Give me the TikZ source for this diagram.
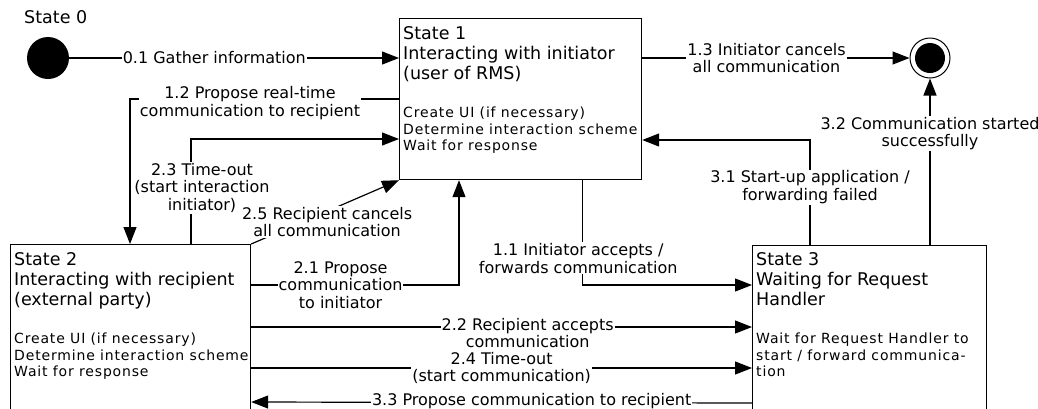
\documentclass[tikz,border=0pt]{standalone}
\usepackage{fontspec}
\setmainfont{DejaVu Sans}
\newfontfamily\spacedfont[LetterSpace=6]{DejaVu Sans}
\usetikzlibrary{arrows.meta}
\usetikzlibrary{positioning}

\begin{document}
\begin{tikzpicture}[x=1pt, y=-1pt,
    flow/.style={draw, line width=1.2pt, -{Triangle[length=17pt, width=13pt]}},
    statebox/.style={draw, line width=1.2pt, rectangle, anchor=north west, inner sep=0pt, minimum height=175pt},
    titletext/.style={inner sep=0pt, align=left, font=\fontsize{17.5}{20}\selectfont},
    bodytext/.style={inner sep=0pt, align=left, font=\spacedfont\fontsize{14}{16.5}\selectfont},
    lbl/.style={fill=white, inner sep=1pt, align=center, font=\fontsize{16}{17.5}\selectfont},
    startdot/.style={circle, fill=black, minimum size=42pt, inner sep=0pt},
    endring/.style={circle, draw, line width=1pt, minimum size=40pt, inner sep=0pt},
    enddot/.style={circle, fill=black, minimum size=30pt, inner sep=0pt}]
    \useasboundingbox (0,0) rectangle (1038,408);

    \node[startdot] (start) at (48,58) {};
    \node[titletext, anchor=base west] (s0) at (24,23) {State 0};

    \node[statebox, minimum width=242pt, minimum height=161pt] (s1) at (399,18) {};
    \node[titletext, below right=8pt and 4pt of s1.north west] (s1title) {State 1\\Interacting with initiator\\(user of RMS)};
    \node[bodytext, below right=89pt and 4pt of s1.north west] (s1body) {Create UI (if necessary)\\Determine interaction scheme\\Wait for response};

    \node[statebox, minimum width=240pt] (s2) at (10,244) {};
    \node[titletext, below right=8pt and 4pt of s2.north west] (s2title) {State 2\\Interacting with recipient\\(external party)};
    \node[bodytext, below right=89pt and 4pt of s2.north west] (s2body) {Create UI (if necessary)\\Determine interaction scheme\\Wait for response};

    \node[statebox, minimum width=234pt] (s3) at (752,245) {};
    \node[titletext, below right=7pt and 4pt of s3.north west] (s3title) {State 3\\Waiting for Request\\Handler};
    \node[bodytext, below right=88pt and 4pt of s3.north west] (s3body) {Wait for Request Handler to\\start / forward communica-\\tion};

    \node[endring] (stop) at (930,58) {};
    \node[enddot] (stopdot) at (stop) {};

    \draw[flow] (start) -- (s1.west |- start) node[lbl, pos=0.44] {0.1 Gather information};
    \draw[flow] (s1.east |- stop) -- (stop) node[lbl, pos=0.465] {1.3 Initiator cancels\\all communication};
    \draw[flow] ([shift={(0,81)}]s1.north west) -| ([shift={(120,0)}]s2.north west)
        node[lbl, pos=0.277, yshift=-4pt] {1.2 Propose real-time\\communication to recipient};
    \draw[flow] ([shift={(181,0)}]s2.north west) |- ([shift={(0,121)}]s1.north west)
        node[lbl, pos=0.267, xshift=11pt] {2.3 Time-out\\(start interaction\\initiator)};
    \draw[flow] (s2.north east) -- (s1.south west) node[lbl, midway, xshift=2pt, yshift=-10pt] {2.5 Recipient cancels\\all communication};
    \draw[flow] ([shift={(0,41)}]s2.north east) -| ([shift={(60,0)}]s1.south west)
        node[lbl, pos=0.215] {2.1 Propose\\communication\\to initiator};
    \draw[flow] ([shift={(-60,0)}]s1.south east) |- ([shift={(0,40)}]s3.north west)
        node[lbl, pos=0.373, xshift=-4pt] {1.1 Initiator accepts /\\forwards communication};
    \draw[flow] ([shift={(0,83)}]s2.north east) -- ([shift={(0,82)}]s3.north west)
        node[lbl, pos=0.552, yshift=-6pt] {2.2 Recipient accepts\\communication};
    \draw[flow] ([shift={(0,124)}]s2.north east) -- ([shift={(0,123)}]s3.north west)
        node[lbl, pos=0.5] {2.4 Time-out\\(start communication)};
    \draw[flow] ([shift={(0,158)}]s3.north west) -- ([shift={(0,158)}]s2.north east)
        node[lbl, pos=0.44, yshift=1pt] {3.3 Propose communication to recipient};
    \draw[flow] ([shift={(58,0)}]s3.north west) |- ([shift={(0,122)}]s1.north east)
        node[lbl, pos=0.276] {3.1 Start-up application /\\forwarding failed};
    \draw[flow] (stop |- s3.north) -- (stop) node[lbl, pos=0.67] {3.2 Communication started\\successfully};
\end{tikzpicture}
\end{document}
